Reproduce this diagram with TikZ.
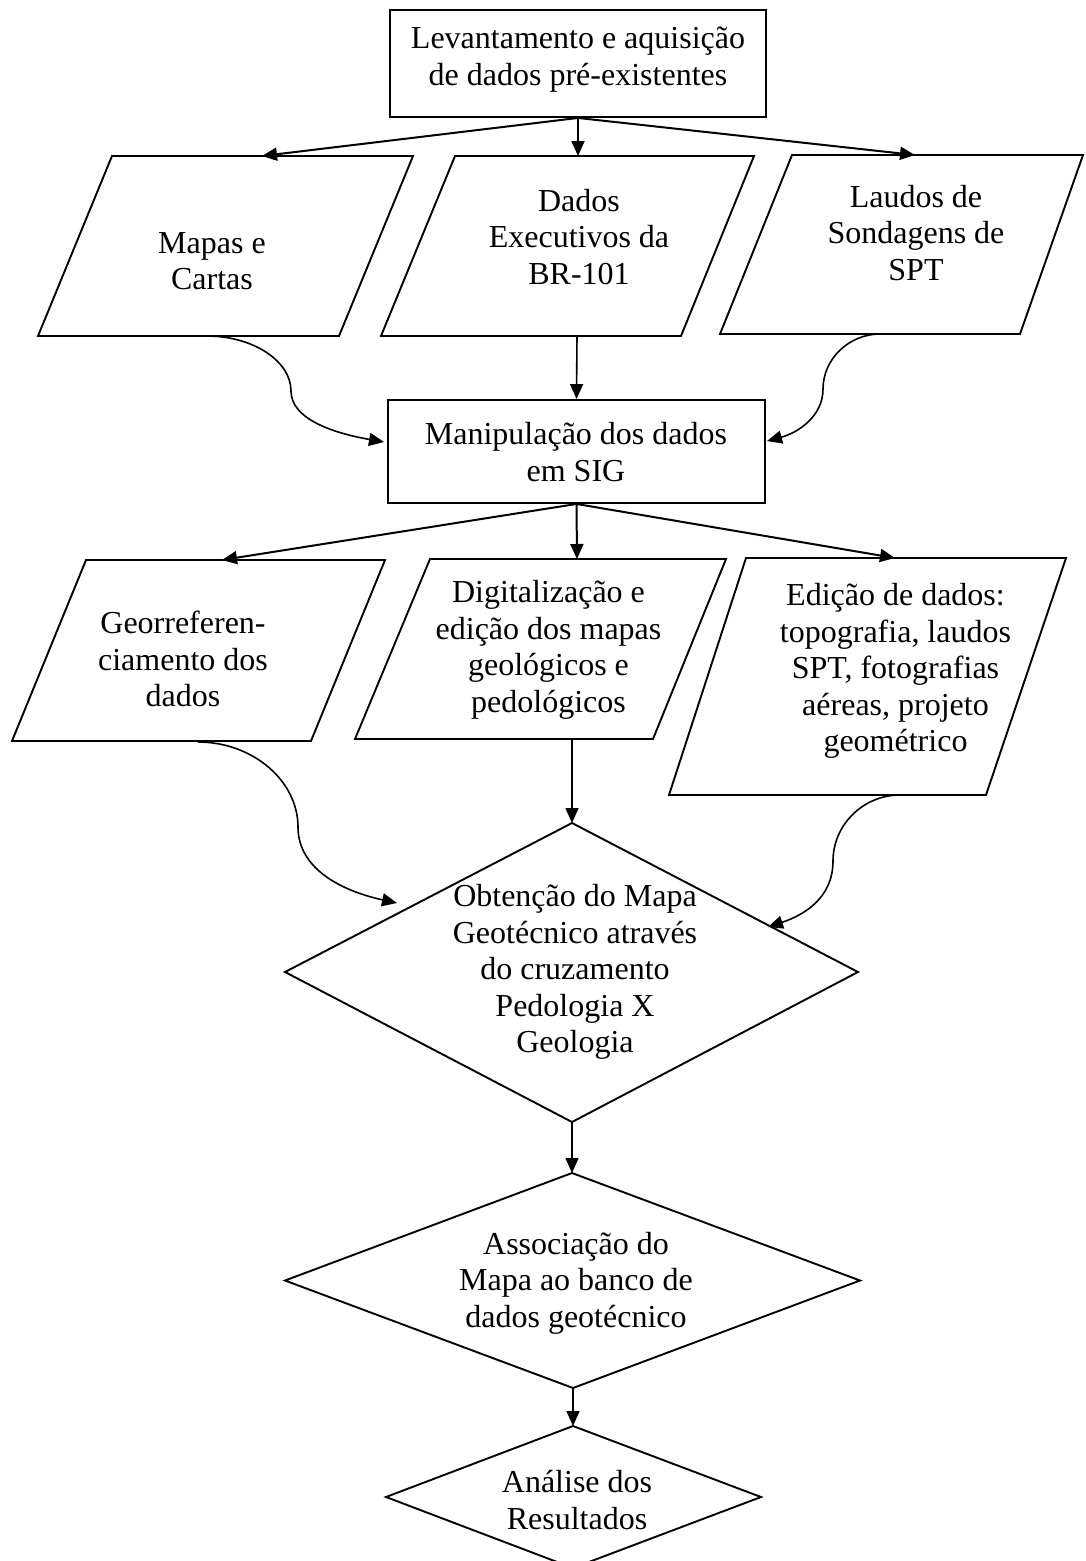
\documentclass[tikz,border=0pt]{standalone}
\usepackage{fontspec}
\setmainfont{Liberation Serif}
\usetikzlibrary{arrows.meta}
\newcommand\figfont{\fontsize{32}{36.5}\selectfont}
\tikzset{
  txt/.style={font=\figfont, align=center, inner sep=0pt},
  shp/.style={draw, line width=1.9pt, line join=miter},
  conn/.style={line width=2pt, -{Triangle[length=15pt,width=13pt]}},
  thin conn/.style={line width=1.6pt, -{Triangle[length=15pt,width=13pt]}},
  rbox/.style={draw, line width=1.9pt, inner sep=0pt},
}
\begin{document}
\begin{tikzpicture}[x=1pt,y=-1pt]
\useasboundingbox (0,0) rectangle (1085,1561);
\clip (0,0) rectangle (1085,1561);
\fill[white] (0,0) rectangle (1085,1561);

% --- top rectangle
\node[rbox, minimum width=376pt, minimum height=107pt] (Tbox) at (578,63.5) {};
\node[txt] (T) at (578,59.5) {Levantamento e aquisição\\de dados pré-existentes};

% --- first row of parallelograms
\draw[shp] (112,156) -- (413,156) -- (339,336) -- (38,336) -- cycle;
\draw[shp] (455,156) -- (754,156) -- (681,336) -- (381,336) -- cycle;
\draw[shp] (792,155) -- (1083,155) -- (1020,334) -- (720,334) -- cycle;
\node[txt] (P1) at (212,261) {Mapas e\\Cartas};
\node[txt] (P2) at (579,237) {Dados\\Executivos da\\BR-101};
\node[txt] (P3) at (916,233) {Laudos de\\Sondagens de\\SPT};
\coordinate (P1t) at (262,156);
\coordinate (P2t) at (578,156);
\coordinate (P3t) at (915,155);
\coordinate (P1b) at (207,336);
\coordinate (P2b) at (577,336);
\coordinate (P3b) at (880,334);

% --- manipulation rectangle
\node[rbox, minimum width=377pt, minimum height=103pt] (Mbox) at (576.5,451.5) {};
\node[txt] (M) at (576,452) {Manipulação dos dados\\em SIG};
\coordinate (Ml) at (384,442);
\coordinate (Mr) at (767,441);
\coordinate (C1m) at (291,391);
\coordinate (C2m) at (823,389);

% --- second row of parallelograms
\draw[shp] (86,560) -- (385,560) -- (311,741) -- (12,741) -- cycle;
\draw[shp] (430,559) -- (726,559) -- (653,739) -- (355,739) -- cycle;
\draw[shp] (746,558) -- (1066,558) -- (986,795) -- (669,795) -- cycle;
\node[txt] (P4) at (183,659) {Georreferen-\\ciamento dos\\dados};
\node[txt] (P5) at (548.5,650) {Digitalização e\\edição dos mapas\\geológicos e\\pedológicos};
\node[txt] (P6) at (895.5,671) {Edição de dados:\\topografia, laudos\\SPT, fotografias\\aéreas, projeto\\geométrico};
\coordinate (P4t) at (222,560);
\coordinate (P5t) at (577,559);
\coordinate (P6t) at (895,558);
\coordinate (P4b) at (198,742);
\coordinate (P5b) at (572,739);
\coordinate (P6b) at (900,795);

% --- diamonds
\coordinate (D1t) at (572,823);
\coordinate (D1b) at (572,1122);
\draw[shp] (D1t) -- (858,972) -- (D1b) -- (285,972) -- cycle;
\node[txt] (D1) at (575,972) {Obtenção do Mapa\\Geotécnico através\\do cruzamento\\Pedologia X\\Geologia};
\coordinate (D1l) at (397,903);
\coordinate (D1r) at (768,927);
\coordinate (C3m) at (298,827);
\coordinate (C4m) at (833,861);

\coordinate (D2t) at (572,1173);
\coordinate (D2b) at (573,1388);
\draw[shp] (D2t) -- (860,1280.5) -- (D2b) -- (285,1280.5) -- cycle;
\node[txt] (D2) at (576,1283) {Associação do\\Mapa ao banco de\\dados geotécnico};

\coordinate (D3t) at (573,1426);
\draw[shp] (D3t) -- (761,1497) -- (573,1568) -- (386,1497) -- cycle;
\node[txt] (D3) at (577,1500) {Análise dos\\Resultados};

% --- connectors
\draw[conn] (Tbox.south) -- (P1t);
\draw[conn] (Tbox.south) -- (P2t);
\draw[conn] (Tbox.south) -- (P3t);

\draw[thin conn] (P1b) .. controls +(46,0) and +(0,-30) .. (C1m)
                       .. controls +(0,28) and +(-51,-9) .. (Ml);
\draw[thin conn] (P2b) -- (Mbox.north);
\draw[thin conn] (P3b) .. controls +(-31,0) and +(0,-30) .. (C2m)
                       .. controls +(0,28) and +(30,-8) .. (Mr);

\draw[conn] (Mbox.south) -- (P4t);
\draw[conn] (Mbox.south) -- (P5t);
\draw[conn] (Mbox.south) -- (P6t);

\draw[thin conn] (P4b) .. controls +(55,0) and +(0,-46) .. (C3m)
                       .. controls +(0,42) and +(-55,-12) .. (D1l);
\draw[thin conn] (P5b) -- (D1t);
\draw[thin conn] (P6b) .. controls +(-37,0) and +(0,-36) .. (C4m)
                       .. controls +(0,37) and +(36,-12) .. (D1r);

\draw[thin conn] (D1b) -- (D2t);
\draw[thin conn] (D2b) -- (D3t);
\end{tikzpicture}
\end{document}
